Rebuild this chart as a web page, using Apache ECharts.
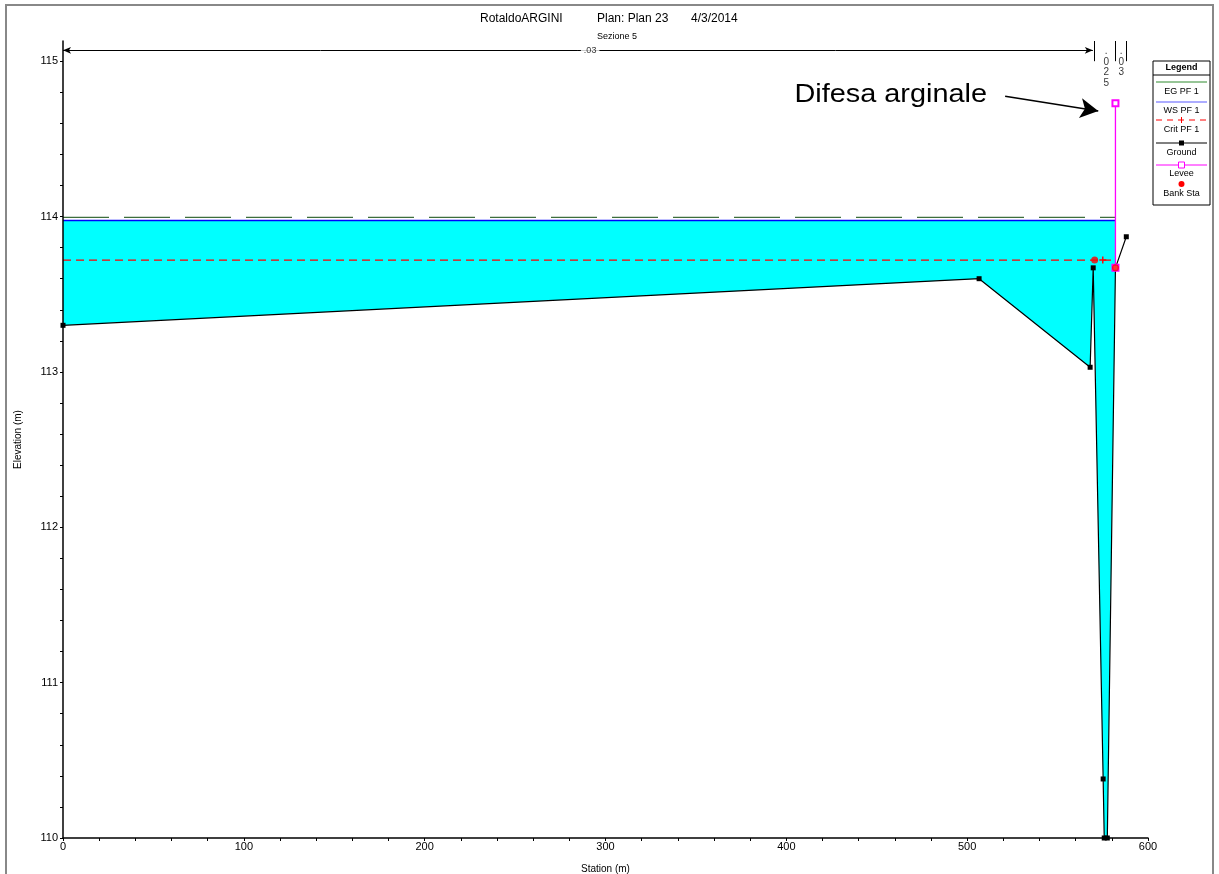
<!DOCTYPE html>
<html>
<head>
<meta charset="utf-8">
<title>RotaldoARGINI - Sezione 5</title>
<script src="https://cdn.jsdelivr.net/npm/echarts@6/dist/echarts.min.js"></script>
<style>
  html, body { margin: 0; padding: 0; background: #fff; }
  #main { width: 1219px; height: 874px; }
</style>
</head>
<body>
<div id="main"></div>
<script>
// ground profile (station m, elevation m)
const groundSta = [0, 506.6, 568, 569.7, 575.2, 575.8, 577.5, 582, 588];
const groundElev = [113.30, 113.60, 113.03, 113.67, 110.38, 110.0, 110.0, 113.67, 113.87];
// water surface / energy grade / critical, all ending at the levee
const profileSta = [0, 582];
const wsElev = [113.975, 113.975];
const egElev = [113.995, 113.995];
const critSta = [0, 575, 582];
const critElev = [113.72, 113.72, 113.72];
// levee and bank stations
const leveeSta = [582, 582];
const leveeElev = [114.73, 113.67];
const bankSta = [570.5, 582];
const bankElev = [113.72, 113.67];
// manning n ranges
const nBounds = [0, 570.5, 582, 588];
const nSta = [291.5, 576.9, 585.2];
const nLabels = ['.03', '.025', '.03'];

const font = "'Liberation Sans', Arial, sans-serif";
const zip = (a, b) => a.map((v, i) => [v, b[i]]);
const plusPath = 'path://M4,0H6V4H10V6H6V10H4V6H0V4H4Z';

const chart = echarts.init(document.getElementById('main'));

// n-value markers: horizontal range with arrows + vertical separators
const nLines = [
  [{ coord: [nBounds[0], 115.07], symbol: 'arrow', symbolSize: [5, 8] },
   { coord: [nBounds[1] - 1, 115.07], symbol: 'arrow', symbolSize: [5, 8] }]
];
nBounds.slice(1).forEach(function (s) {
  nLines.push([{ coord: [s, 115.0] }, { coord: [s, 115.13] }]);
});

const nData = nSta.map(function (s, i) {
  if (i === 0) {
    return {
      value: [s, 115.07],
      label: { position: 'inside', formatter: nLabels[i], backgroundColor: '#fff', padding: [0, 3] }
    };
  }
  return {
    value: [s, 115.1],
    label: { position: 'bottom', distance: 0, lineHeight: 10.5, fontSize: 10, formatter: nLabels[i].split('').join('\n') }
  };
});

chart.setOption({
  animation: false,
  backgroundColor: '#fff',
  textStyle: { fontFamily: font },
  title: [
    { text: 'RotaldoARGINI', left: 475, top: 8, textStyle: { fontSize: 12, fontWeight: 'normal', color: '#000', fontFamily: font } },
    { text: 'Plan: Plan 23', left: 592, top: 8, textStyle: { fontSize: 12, fontWeight: 'normal', color: '#000', fontFamily: font } },
    { text: '4/3/2014', left: 686, top: 8, textStyle: { fontSize: 12, fontWeight: 'normal', color: '#000', fontFamily: font } },
    { text: 'Sezione 5', left: 592, top: 27, textStyle: { fontSize: 9, fontWeight: 'normal', color: '#000', fontFamily: font } }
  ],
  grid: { left: 63, right: 71, top: 41, bottom: 36, containLabel: false, outerBoundsMode: 'none' },
  xAxis: {
    type: 'value', min: 0, max: 600, interval: 20, z: 5,
    name: 'Station (m)', nameLocation: 'middle', nameGap: 26,
    nameTextStyle: { fontSize: 10, color: '#000', fontFamily: font },
    axisLine: { lineStyle: { color: '#000', width: 1.5 } },
    axisTick: { length: 3, lineStyle: { color: '#000' } },
    axisLabel: {
      fontSize: 11, color: '#000', margin: 3, fontFamily: font,
      formatter: function (v) { return Math.round(v) % 100 === 0 ? String(Math.round(v)) : ''; }
    },
    splitLine: { show: false }
  },
  yAxis: {
    type: 'value', min: 110, max: 115.13, interval: 0.2, z: 5,
    name: 'Elevation (m)', nameLocation: 'middle', nameGap: 40,
    nameTextStyle: { fontSize: 10, color: '#000', fontFamily: font },
    axisLine: { show: true, lineStyle: { color: '#000', width: 1.5 } },
    axisTick: { show: true, length: 3, lineStyle: { color: '#000' } },
    axisLabel: {
      fontSize: 11, color: '#000', margin: 5, fontFamily: font, showMaxLabel: false,
      formatter: function (v) { return Math.abs(v - Math.round(v)) < 1e-6 ? String(Math.round(v)) : ''; }
    },
    splitLine: { show: false }
  },
  series: [
    {
      name: 'WS PF 1', type: 'line', z: 2,
      data: zip(profileSta, wsElev),
      symbol: 'none',
      lineStyle: { color: '#0000ff', width: 1.5 },
      areaStyle: { color: '#00ffff', opacity: 1, origin: 'start' }
    },
    {
      name: 'Ground', type: 'line', z: 3,
      data: zip(groundSta, groundElev),
      symbol: 'rect', symbolSize: 5,
      itemStyle: { color: '#000' },
      lineStyle: { color: '#000', width: 1.2 },
      areaStyle: { color: '#fff', opacity: 1, origin: 'start' }
    },
    {
      name: 'EG PF 1', type: 'line', z: 4,
      data: zip(profileSta, egElev),
      symbol: 'none',
      lineStyle: { color: '#3d6e3d', width: 1.3, type: [46, 15] }
    },
    {
      name: 'Crit PF 1', type: 'line', z: 4,
      data: zip(critSta, critElev),
      symbol: function (v) { return v[0] === 575 ? plusPath : 'none'; },
      symbolSize: 7,
      itemStyle: { color: '#ff0000' },
      lineStyle: { color: '#ff0000', width: 1.3, type: [8, 5] }
    },
    {
      name: 'Levee', type: 'line', z: 5,
      data: zip(leveeSta, leveeElev),
      symbol: 'emptyRect', symbolSize: 6, showAllSymbol: true,
      itemStyle: { color: '#ff00ff', borderColor: '#ff00ff', borderWidth: 1 },
      lineStyle: { color: '#ff00ff', width: 1.3 }
    },
    {
      name: 'Bank Sta', type: 'scatter', z: 6,
      data: zip(bankSta, bankElev),
      symbol: 'circle', symbolSize: 7,
      itemStyle: { color: '#ff0000' }
    },
    {
      name: 'n values', type: 'scatter', z: 6, silent: true,
      data: nData,
      symbolSize: 1,
      itemStyle: { color: 'transparent' },
      label: { show: true, fontSize: 9, color: '#000', fontFamily: font },
      markLine: {
        silent: true, symbol: ['none', 'none'],
        label: { show: false },
        lineStyle: { color: '#000', width: 1, type: 'solid' },
        data: nLines
      }
    },
    {
      name: 'annotation', type: 'line', z: 6, silent: true,
      data: [],
      markLine: {
        silent: true, symbol: ['none', 'arrow'], symbolSize: [15, 18],
        label: { show: false },
        lineStyle: { color: '#000', width: 1.5, type: 'solid' },
        data: [[{ coord: [521, 114.775] }, { coord: [572.5, 114.68] }]]
      }
    }
  ],
  graphic: [
    // outer frame
    { type: 'rect', shape: { x: 6, y: 5, width: 1207, height: 880 }, style: { fill: 'none', stroke: '#888', lineWidth: 2 }, z: 0, silent: true },
    // annotation text
    { type: 'text', x: 987, y: 95, scaleX: 1.11, style: { text: 'Difesa arginale', font: "26px 'Liberation Sans', Arial, sans-serif", fill: '#000', align: 'right', verticalAlign: 'middle' }, z: 10 },
    // legend box
    {
      type: 'group', z: 10, silent: true,
      children: [
        { type: 'rect', shape: { x: 1153, y: 61, width: 57, height: 144 }, style: { fill: '#fff', stroke: '#000', lineWidth: 1 } },
        { type: 'text', x: 1181.5, y: 68, style: { text: 'Legend', font: "bold 9px 'Liberation Sans', Arial", fill: '#000', align: 'center', verticalAlign: 'middle' } },
        { type: 'line', shape: { x1: 1153, y1: 75, x2: 1210, y2: 75 }, style: { stroke: '#000', lineWidth: 1 } },
        { type: 'line', shape: { x1: 1156, y1: 82, x2: 1207, y2: 82 }, style: { stroke: '#2e8b2e', lineWidth: 1 } },
        { type: 'text', x: 1181.5, y: 92, style: { text: 'EG PF 1', font: "9px 'Liberation Sans', Arial", fill: '#000', align: 'center', verticalAlign: 'middle' } },
        { type: 'line', shape: { x1: 1156, y1: 102, x2: 1207, y2: 102 }, style: { stroke: '#5a5aff', lineWidth: 1.2 } },
        { type: 'text', x: 1181.5, y: 111, style: { text: 'WS PF 1', font: "9px 'Liberation Sans', Arial", fill: '#000', align: 'center', verticalAlign: 'middle' } },
        { type: 'line', shape: { x1: 1156, y1: 120, x2: 1207, y2: 120 }, style: { stroke: '#ff0000', lineWidth: 1, lineDash: [6, 5] } },
        { type: 'line', shape: { x1: 1181.5, y1: 117, x2: 1181.5, y2: 123 }, style: { stroke: '#ff0000', lineWidth: 1 } },
        { type: 'text', x: 1181.5, y: 130, style: { text: 'Crit PF 1', font: "9px 'Liberation Sans', Arial", fill: '#000', align: 'center', verticalAlign: 'middle' } },
        { type: 'line', shape: { x1: 1156, y1: 143, x2: 1207, y2: 143 }, style: { stroke: '#000', lineWidth: 1 } },
        { type: 'rect', shape: { x: 1179, y: 140.5, width: 5, height: 5 }, style: { fill: '#000' } },
        { type: 'text', x: 1181.5, y: 153, style: { text: 'Ground', font: "9px 'Liberation Sans', Arial", fill: '#000', align: 'center', verticalAlign: 'middle' } },
        { type: 'line', shape: { x1: 1156, y1: 165, x2: 1207, y2: 165 }, style: { stroke: '#ff00ff', lineWidth: 1 } },
        { type: 'rect', shape: { x: 1178.5, y: 162, width: 6, height: 6 }, style: { fill: '#fff', stroke: '#ff00ff', lineWidth: 1 } },
        { type: 'text', x: 1181.5, y: 174, style: { text: 'Levee', font: "9px 'Liberation Sans', Arial", fill: '#000', align: 'center', verticalAlign: 'middle' } },
        { type: 'circle', shape: { cx: 1181.5, cy: 184, r: 3 }, style: { fill: '#ff0000' } },
        { type: 'text', x: 1181.5, y: 194, style: { text: 'Bank Sta', font: "9px 'Liberation Sans', Arial", fill: '#000', align: 'center', verticalAlign: 'middle' } }
      ]
    }
  ]
});
</script>
</body>
</html>
